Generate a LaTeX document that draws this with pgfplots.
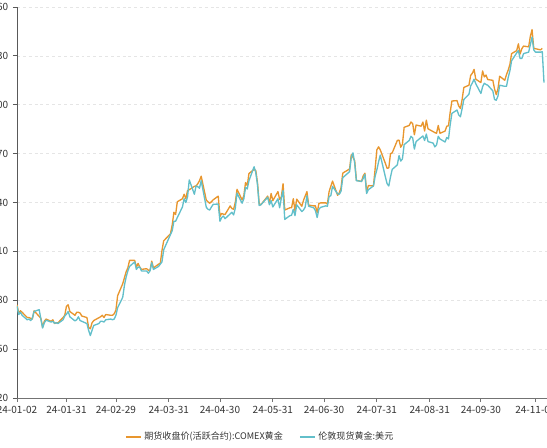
\documentclass[border=0pt]{standalone}
\usepackage{pgfplots}
\pgfplotsset{compat=1.18}
\usepackage{pgfplotstable}
\usepgfplotslibrary{dateplot}
\usepackage{fontspec}
\setmainfont{Noto Sans CJK SC}
\definecolor{cOrange}{HTML}{E8962E}
\definecolor{cBlue}{HTML}{62BFCA}
\definecolor{cText}{HTML}{333333}

\pgfplotstableread{
date v
2024-01-02 2068
2024-01-03 2046
2024-01-04 2052
2024-01-05 2048
2024-01-08 2034
2024-01-09 2034
2024-01-10 2032
2024-01-11 2030
2024-01-12 2052
2024-01-16 2032
2024-01-17 2008
2024-01-18 2024
2024-01-19 2030
2024-01-22 2024
2024-01-23 2028
2024-01-24 2018
2024-01-25 2020
2024-01-26 2020
2024-01-29 2034
2024-01-30 2040
2024-01-31 2064
2024-02-01 2068
2024-02-02 2050
2024-02-05 2040
2024-02-06 2048
2024-02-07 2048
2024-02-08 2046
2024-02-09 2038
2024-02-12 2034
2024-02-13 2008
2024-02-14 2004
2024-02-15 2020
2024-02-16 2026
2024-02-20 2036
2024-02-21 2040
2024-02-22 2034
2024-02-23 2042
2024-02-26 2040
2024-02-27 2040
2024-02-28 2044
2024-02-29 2054
2024-03-01 2092
2024-03-04 2124
2024-03-05 2140
2024-03-06 2156
2024-03-07 2166
2024-03-08 2186
2024-03-11 2186
2024-03-12 2168
2024-03-13 2178
2024-03-14 2168
2024-03-15 2162
2024-03-18 2164
2024-03-19 2160
2024-03-20 2160
2024-03-21 2184
2024-03-22 2166
2024-03-25 2176
2024-03-26 2178
2024-03-27 2212
2024-03-28 2238
2024-04-01 2257
2024-04-02 2280
2024-04-03 2314
2024-04-04 2308
2024-04-05 2342
2024-04-08 2350
2024-04-09 2362
2024-04-10 2350
2024-04-11 2372
2024-04-12 2374
2024-04-15 2383
2024-04-16 2384
2024-04-17 2390
2024-04-18 2398
2024-04-19 2410
2024-04-22 2346
2024-04-23 2342
2024-04-24 2338
2024-04-25 2342
2024-04-26 2347
2024-04-29 2357
2024-04-30 2303
2024-05-01 2311
2024-05-02 2309
2024-05-03 2308
2024-05-06 2331
2024-05-07 2324
2024-05-08 2322
2024-05-09 2340
2024-05-10 2375
2024-05-13 2347
2024-05-14 2358
2024-05-15 2393
2024-05-16 2385
2024-05-17 2417
2024-05-20 2428
2024-05-21 2425
2024-05-22 2393
2024-05-23 2337
2024-05-24 2334
2024-05-28 2357
2024-05-29 2338
2024-05-30 2364
2024-05-31 2345
2024-06-03 2369
2024-06-04 2348
2024-06-05 2355
2024-06-06 2390
2024-06-07 2320
2024-06-10 2326
2024-06-11 2326
2024-06-12 2350
2024-06-13 2318
2024-06-14 2349
2024-06-17 2330
2024-06-18 2346
2024-06-20 2369
2024-06-21 2333
2024-06-24 2331
2024-06-25 2331
2024-06-26 2313
2024-06-27 2337
2024-06-28 2339
2024-07-01 2339
2024-07-02 2336
2024-07-03 2369
2024-07-05 2397
2024-07-08 2359
2024-07-09 2366
2024-07-10 2379
2024-07-11 2418
2024-07-12 2421
2024-07-15 2429
2024-07-16 2467
2024-07-17 2460
2024-07-18 2451
2024-07-19 2399
2024-07-22 2396
2024-07-23 2411
2024-07-24 2418
2024-07-25 2368
2024-07-26 2385
2024-07-29 2384
2024-07-30 2430
2024-07-31 2480
2024-08-01 2488
2024-08-02 2480
2024-08-05 2444
2024-08-06 2431
2024-08-07 2432
2024-08-08 2470
2024-08-09 2472
2024-08-12 2505
2024-08-13 2506
2024-08-14 2487
2024-08-15 2495
2024-08-16 2540
2024-08-19 2545
2024-08-20 2554
2024-08-21 2550
2024-08-22 2520
2024-08-23 2546
2024-08-26 2543
2024-08-27 2554
2024-08-28 2530
2024-08-29 2559
2024-08-30 2536
2024-09-03 2526
2024-09-04 2524
2024-09-05 2545
2024-09-06 2524
2024-09-09 2530
2024-09-10 2543
2024-09-11 2544
2024-09-12 2580
2024-09-13 2610
2024-09-16 2611
2024-09-17 2597
2024-09-18 2590
2024-09-19 2614
2024-09-20 2646
2024-09-23 2652
2024-09-24 2678
2024-09-25 2684
2024-09-26 2694
2024-09-27 2668
2024-09-30 2659
2024-10-01 2690
2024-10-02 2674
2024-10-03 2679
2024-10-04 2667
2024-10-07 2665
2024-10-08 2642
2024-10-09 2627
2024-10-10 2642
2024-10-11 2676
2024-10-14 2665
2024-10-15 2680
2024-10-16 2692
2024-10-17 2707
2024-10-18 2736
2024-10-21 2744
2024-10-22 2762
2024-10-23 2735
2024-10-24 2749
2024-10-25 2756
2024-10-28 2754
2024-10-29 2782
2024-10-30 2800
2024-10-31 2750
2024-11-01 2749
2024-11-04 2746
2024-11-05 2750
}\comex

\pgfplotstableread{
date v
2024-01-02 2064
2024-01-03 2042
2024-01-04 2048
2024-01-05 2040
2024-01-08 2028
2024-01-09 2030
2024-01-10 2026
2024-01-11 2032
2024-01-12 2050
2024-01-15 2055
2024-01-16 2030
2024-01-17 2006
2024-01-18 2020
2024-01-19 2027
2024-01-22 2022
2024-01-23 2024
2024-01-24 2019
2024-01-25 2020
2024-01-26 2018
2024-01-29 2028
2024-01-30 2038
2024-01-31 2043
2024-02-01 2050
2024-02-02 2036
2024-02-05 2025
2024-02-06 2028
2024-02-07 2036
2024-02-08 2026
2024-02-09 2024
2024-02-12 2018
2024-02-13 2000
2024-02-14 1986
2024-02-15 2000
2024-02-16 2013
2024-02-19 2018
2024-02-20 2024
2024-02-21 2024
2024-02-22 2022
2024-02-23 2028
2024-02-26 2030
2024-02-27 2028
2024-02-28 2030
2024-02-29 2040
2024-03-01 2060
2024-03-04 2088
2024-03-05 2120
2024-03-06 2142
2024-03-07 2158
2024-03-08 2170
2024-03-11 2182
2024-03-12 2162
2024-03-13 2168
2024-03-14 2168
2024-03-15 2158
2024-03-18 2158
2024-03-19 2152
2024-03-20 2158
2024-03-21 2180
2024-03-22 2162
2024-03-25 2170
2024-03-26 2176
2024-03-27 2182
2024-03-28 2214
2024-04-02 2265
2024-04-03 2290
2024-04-04 2290
2024-04-05 2300
2024-04-08 2328
2024-04-09 2350
2024-04-10 2340
2024-04-11 2355
2024-04-12 2400
2024-04-15 2362
2024-04-16 2384
2024-04-17 2382
2024-04-18 2378
2024-04-19 2398
2024-04-22 2327
2024-04-23 2322
2024-04-24 2320
2024-04-25 2328
2024-04-26 2335
2024-04-29 2336
2024-04-30 2290
2024-05-01 2300
2024-05-02 2304
2024-05-03 2297
2024-05-07 2314
2024-05-08 2307
2024-05-09 2325
2024-05-10 2365
2024-05-13 2338
2024-05-14 2350
2024-05-15 2380
2024-05-16 2376
2024-05-17 2398
2024-05-20 2435
2024-05-21 2420
2024-05-22 2388
2024-05-23 2332
2024-05-24 2334
2024-05-28 2354
2024-05-29 2334
2024-05-30 2345
2024-05-31 2328
2024-06-03 2350
2024-06-04 2326
2024-06-05 2352
2024-06-06 2372
2024-06-07 2295
2024-06-10 2305
2024-06-11 2306
2024-06-12 2322
2024-06-13 2305
2024-06-14 2334
2024-06-17 2316
2024-06-18 2320
2024-06-19 2328
2024-06-20 2358
2024-06-21 2330
2024-06-24 2326
2024-06-25 2318
2024-06-26 2300
2024-06-27 2322
2024-06-28 2327
2024-07-01 2331
2024-07-02 2330
2024-07-03 2356
2024-07-04 2358
2024-07-05 2383
2024-07-08 2363
2024-07-09 2362
2024-07-10 2370
2024-07-11 2406
2024-07-12 2410
2024-07-15 2422
2024-07-16 2460
2024-07-17 2472
2024-07-18 2445
2024-07-19 2398
2024-07-22 2396
2024-07-23 2404
2024-07-24 2415
2024-07-25 2364
2024-07-26 2374
2024-07-29 2384
2024-07-30 2410
2024-07-31 2427
2024-08-01 2448
2024-08-02 2466
2024-08-05 2408
2024-08-06 2390
2024-08-07 2384
2024-08-08 2408
2024-08-09 2428
2024-08-12 2440
2024-08-13 2465
2024-08-14 2450
2024-08-15 2456
2024-08-16 2494
2024-08-19 2505
2024-08-20 2516
2024-08-21 2512
2024-08-22 2482
2024-08-23 2502
2024-08-27 2517
2024-08-28 2505
2024-08-29 2522
2024-08-30 2502
2024-09-02 2498
2024-09-03 2488
2024-09-04 2493
2024-09-05 2516
2024-09-06 2509
2024-09-09 2501
2024-09-10 2513
2024-09-11 2509
2024-09-12 2547
2024-09-13 2577
2024-09-16 2586
2024-09-17 2573
2024-09-18 2568
2024-09-19 2590
2024-09-20 2614
2024-09-23 2628
2024-09-24 2650
2024-09-25 2658
2024-09-26 2668
2024-09-27 2656
2024-09-30 2630
2024-10-01 2648
2024-10-02 2657
2024-10-03 2654
2024-10-04 2652
2024-10-07 2637
2024-10-08 2614
2024-10-09 2612
2024-10-10 2623
2024-10-11 2652
2024-10-14 2649
2024-10-15 2649
2024-10-16 2672
2024-10-17 2690
2024-10-18 2717
2024-10-21 2738
2024-10-22 2744
2024-10-23 2723
2024-10-24 2723
2024-10-25 2736
2024-10-28 2740
2024-10-29 2760
2024-10-30 2780
2024-10-31 2746
2024-11-01 2740
2024-11-04 2740
2024-11-05 2741
2024-11-06 2659
}\london

\begin{document}
\begin{tikzpicture}
\path[use as bounding box, clip] (-12.75pt,-36.75pt) rectangle (397.5pt,298.5pt);
\begin{axis}[
  at={(0pt,0pt)}, anchor=south west,
  scale only axis,
  width=397.8pt, height=293.25pt,
  date coordinates in=x,
  xmin=2024-01-02, xmax=2024-11-08,
  ymin=1820, ymax=2860,
  ytick={1820,1950,2080,2210,2340,2470,2600,2730,2860},
  xtick={2024-01-02,2024-01-31,2024-02-29,2024-03-31,2024-04-30,2024-05-31,2024-06-30,2024-07-31,2024-08-31,2024-09-30,2024-11-01},
  xticklabels={24-01-02,24-01-31,24-02-29,24-03-31,24-04-30,24-05-31,24-06-30,24-07-31,24-08-31,24-09-30,24-11-01},
  axis lines*=left,
  x axis line style={color=black!55, line width=0.6pt},
  y axis line style={color=black!65, line width=0.6pt},
  tick align=outside,
  major tick length=3pt,
  xtick style={color=black!55, line width=0.6pt},
  ytick style={color=black!65, line width=0.6pt},
  ymajorgrids,
  grid style={dash pattern=on 2.2pt off 2.2pt, color=black!10, line width=0.5pt},
  tick label style={font=\fontsize{7.5}{9}\selectfont, color=cText},
  /pgf/number format/assume math mode=true,
  /pgf/number format/1000 sep={},
  legend style={at={(0.459,-0.0997)}, anchor=center, draw=none, fill=none,
    font=\fontsize{6.8}{8}\selectfont, text=cText, legend columns=2,
    /tikz/every even column/.append style={column sep=10pt}},
  legend image code/.code={\draw[#1, line width=1.6pt] (0pt,0pt) -- (11pt,0pt);},
]
\addplot[cOrange, line width=1pt, line join=round] table[x=date, y=v] {\comex};
\addlegendentry{期货收盘价(活跃合约):COMEX黄金}
\addplot[cBlue, line width=1pt, line join=round] table[x=date, y=v] {\london};
\addlegendentry{伦敦现货黄金:美元}
\end{axis}
\end{tikzpicture}
\end{document}
